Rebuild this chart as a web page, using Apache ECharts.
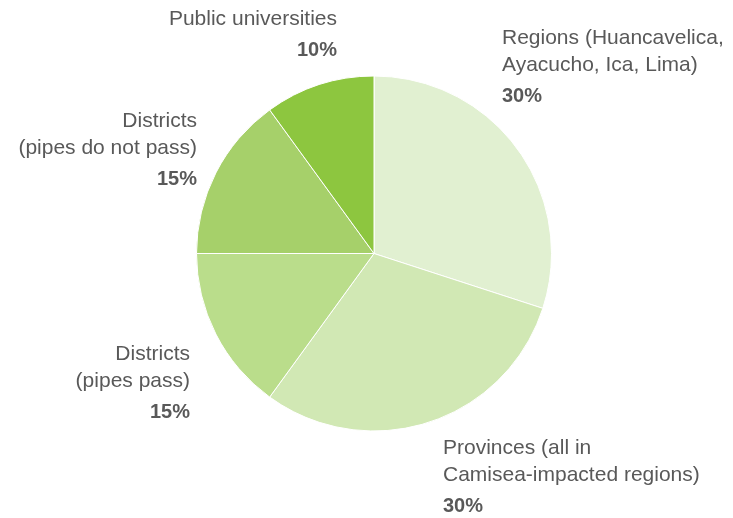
<!DOCTYPE html>
<html>
<head>
<meta charset="utf-8">
<script src="https://cdn.jsdelivr.net/npm/echarts@6/dist/echarts.min.js"></script>
<style>
  html, body { margin: 0; padding: 0; background: #fff; }
  #chart { width: 733px; height: 518px; }
</style>
</head>
<body>
<div id="chart"></div>
<script>
// slices, clockwise from 12 o'clock
const names = [
  "Regions (Huancavelica,\nAyacucho, Ica, Lima)",
  "Provinces (all in\nCamisea-impacted regions)",
  "Districts\n(pipes pass)",
  "Districts\n(pipes do not pass)",
  "Public universities"
];
const shares = [30, 30, 15, 15, 10];
const colors = ["#e1f0d1", "#d1e8b4", "#badd8b", "#a6d06a", "#8dc63f"];

// label anchors (x, y of top of text block) and alignment
const labelPos = [
  { x: 502, y: 25, align: "left" },
  { x: 443, y: 435, align: "left" },
  { x: 190, y: 341, align: "right" },
  { x: 197, y: 108, align: "right" },
  { x: 337, y: 6, align: "right" }
];

const FONT = "Liberation Sans, Arial, sans-serif";
const chart = echarts.init(document.getElementById("chart"));

const option = {
  animation: false,
  series: [
    {
      type: "pie",
      center: [374, 253.5],
      radius: 177.5,
      startAngle: 90,
      clockwise: true,
      data: names.map((n, i) => ({
        name: n,
        value: shares[i],
        itemStyle: { color: colors[i] }
      })),
      itemStyle: { borderColor: "#fff", borderWidth: 1 },
      label: {
        show: true,
        position: "outside",
        overflow: "none",
        formatter: (p) => "{n|" + p.name.split("\n").join("}\n{n|") + "}\n{p|" + p.value + "%}",
        fontFamily: FONT,
        rich: {
          n: { fontSize: 21, lineHeight: 27, color: "#595959", fontFamily: FONT },
          p: { fontSize: 20, lineHeight: 35, color: "#595959", fontWeight: "bold", fontFamily: FONT }
        }
      },
      labelLine: { show: false },
      emphasis: { disabled: true },
      labelLayout: (params) => {
        const lp = labelPos[params.dataIndex];
        return { x: lp.x, y: lp.y, align: lp.align, verticalAlign: "top" };
      }
    }
  ]
};

chart.setOption(option);
</script>
</body>
</html>
